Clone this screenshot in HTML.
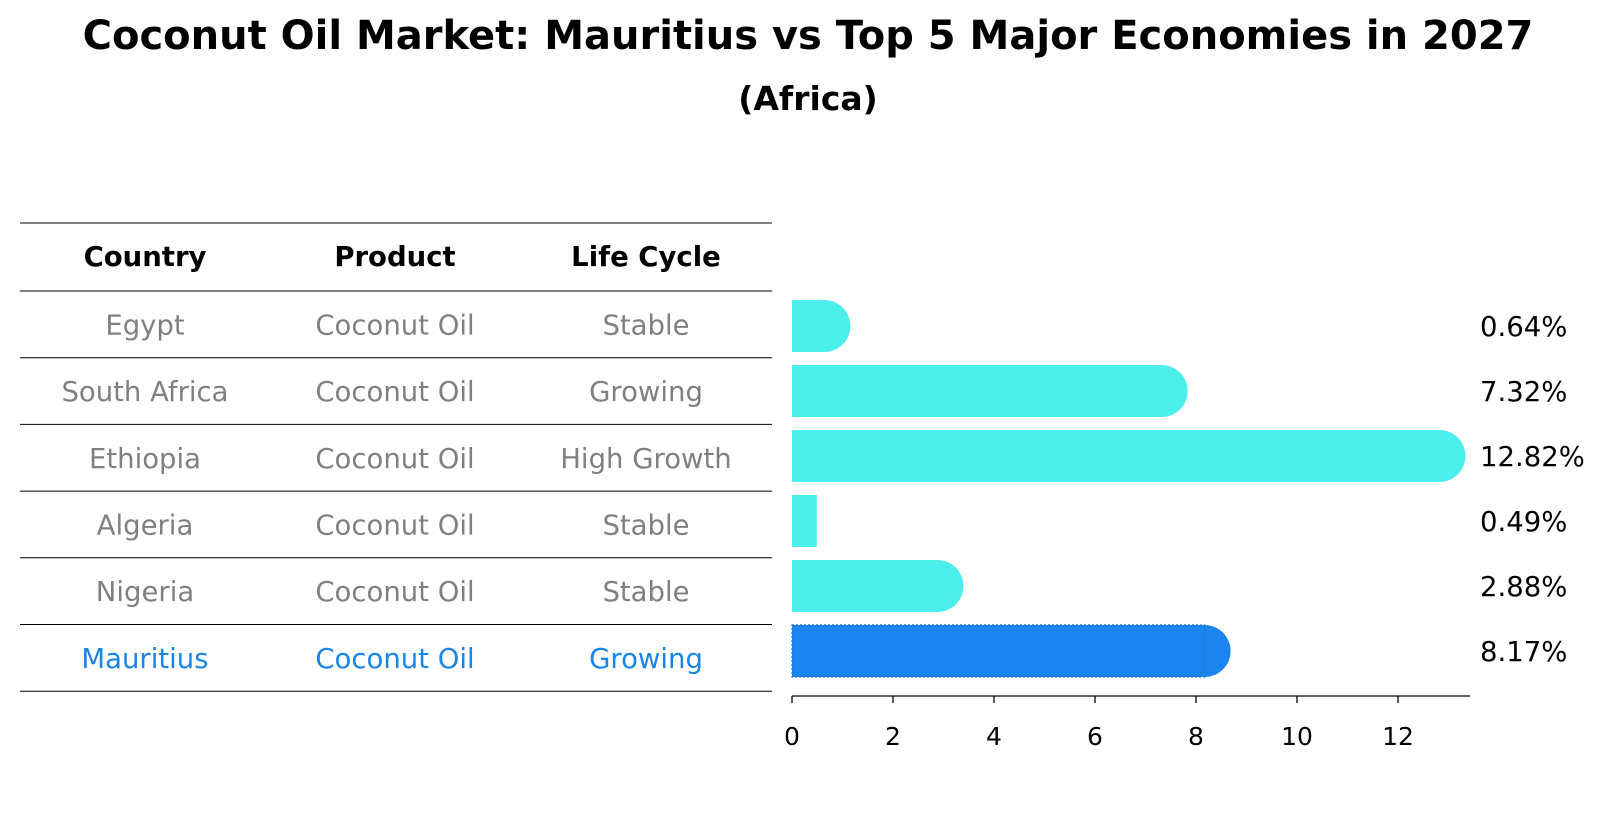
<!DOCTYPE html>
<html><head><meta charset="utf-8"><style>
body{margin:0;background:#fff;font-family:"Liberation Sans","DejaVu Sans",sans-serif}
</style></head><body>
<svg width="1604" height="823" xmlns="http://www.w3.org/2000/svg" font-family="DejaVu Sans, Liberation Sans, sans-serif">
<text x="808" y="49" text-anchor="middle" font-size="40" font-weight="bold">Coconut Oil Market: Mauritius vs Top 5 Major Economies in 2027</text>
<text x="808" y="110" text-anchor="middle" font-size="33" font-weight="bold">(Africa)</text>
<g id="table"></g>
<g id="bars"></g>
</svg>
<script>
const countries=["Egypt","South Africa","Ethiopia","Algeria","Nigeria","Mauritius"];
const products=["Coconut Oil","Coconut Oil","Coconut Oil","Coconut Oil","Coconut Oil","Coconut Oil"];
const lifeCycles=["Stable","Growing","High Growth","Stable","Stable","Growing"];
const values=[0.64,7.32,12.82,0.49,2.88,8.17];
const ticks=[0,2,4,6,8,10,12];
const NS="http://www.w3.org/2000/svg";
function mk(tag,attrs,parent,text){const e=document.createElementNS(NS,tag);for(const k in attrs)e.setAttribute(k,attrs[k]);if(text!==undefined)e.textContent=text;parent.appendChild(e);return e;}
const tbl=document.getElementById('table'),bg=document.getElementById('bars');
const x=v=>792+v*50.5;
const rowY=i=>326+i*65;
const lines=[223,291];
for(let i=0;i<6;i++)lines.push(291+(i+1)*66.7);
lines.forEach((ly,i)=>{const l=mk('line',{x1:20,x2:772,y1:ly,y2:ly,stroke:'#000','stroke-width':1},tbl);

});
const cols=[145,395,646];
["Country","Product","Life Cycle"].forEach((h,j)=>{const t=mk('text',{x:cols[j],y:266,'text-anchor':'middle','font-size':27.5,'font-weight':'bold'},tbl,h);

});
countries.forEach((c,i)=>{const cy=291+(i+0.5)*66.7+10;const col=i===5?'#1a85e8':'#808080';
[c,products[i],lifeCycles[i]].forEach((s,j)=>{const t=mk('text',{x:cols[j],y:cy,'text-anchor':'middle','font-size':27.5,fill:col},tbl,s);

});});
values.forEach((v,i)=>{const cy=rowY(i),h=52;const hl=i===5;const fill=hl?'#1a85f0':'#4beeea';
const r=mk('rect',{x:x(0),y:cy-h/2,width:x(v)-x(0),height:h,fill:fill},bg);


if(v>0.5){const c=mk('circle',{cx:x(v),cy:cy,r:h/2,fill:fill},bg);

}
if(hl){const o=mk('rect',{x:x(0),y:cy-h/2,width:x(v)-x(0),height:h,fill:'none',stroke:'#2a6fc0','stroke-width':1.2,'stroke-dasharray':'2,2'},bg);

}
const t=mk('text',{x:1480,y:cy+10,'font-size':27.5},bg,v.toFixed(2)+'%');

});
const ax=mk('line',{x1:792,x2:1470,y1:696,y2:696,stroke:'#000','stroke-width':1.3},bg);


ticks.forEach(t=>{const l=mk('line',{x1:x(t),x2:x(t),y1:696,y2:703,stroke:'#000','stroke-width':1.3},bg);


const tx=mk('text',{x:x(t),y:745,'text-anchor':'middle','font-size':25},bg,String(t));

});
</script>
</body></html>
